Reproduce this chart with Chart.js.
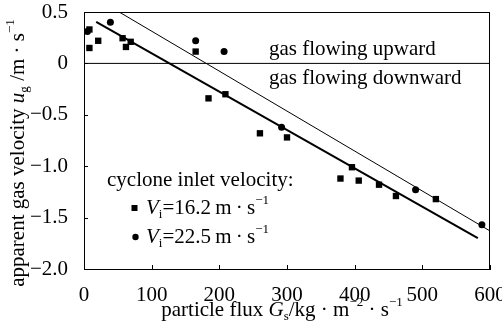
<!DOCTYPE html>
<html>
<head>
<meta charset="utf-8">
<script src="https://cdn.jsdelivr.net/npm/chart.js@4.4.1/dist/chart.umd.min.js"></script>
<style>
  html, body { margin: 0; padding: 0; background: #fff; }
  #wrap { width: 502px; height: 324px; }
</style>
</head>
<body>
<div id="wrap"><canvas id="myChart" width="502" height="324"></canvas></div>
<script>
// Vi = 16.2 m/s (squares)
const squareX = [8, 8, 21, 57, 62, 69, 165, 184, 209, 260, 300, 379, 396, 406, 436, 461, 520];
const squareY = [0.33, 0.15, 0.22, 0.245, 0.16, 0.21, 0.115, -0.34, -0.30, -0.68, -0.72, -1.12, -1.01, -1.14, -1.18, -1.29, -1.32];
// Vi = 22.5 m/s (circles)
const circleX = [5, 39, 165, 207, 292, 490, 588];
const circleY = [0.31, 0.40, 0.22, 0.115, -0.62, -1.23, -1.57];
// fitted lines
const fitLowX = [18, 582];
const fitLowY = [0.405, -1.70];
const fitHighX = [52, 600];
const fitHighY = [0.5, -1.63];
const zeroX = [0, 600];
const zeroY = [0, 0];

const xTicks = [0, 100, 200, 300, 400, 500, 600];
const yTicks = [0.5, 0, -0.5, -1.0, -1.5, -2.0];

const FONT = "'Liberation Serif', 'Times New Roman', serif";

function pts(xs, ys) {
    return xs.map((x, i) => ({ x: x, y: ys[i] }));
}

// text pieces, some italic / sub / sup
function richWidth(ctx, segs, size) {
    let w = 0;
    segs.forEach(s => {
        const sz = (s.sub || s.sup) ? size * 0.62 : size;
        ctx.font = (s.it ? 'italic ' : '') + sz + 'px ' + FONT;
        w += ctx.measureText(s.t).width;
    });
    return w;
}
function drawRich(ctx, segs, x, y, size) {
    ctx.textBaseline = 'middle';
    ctx.textAlign = 'left';
    segs.forEach(s => {
        const sz = (s.sub || s.sup) ? size * 0.62 : size;
        ctx.font = (s.it ? 'italic ' : '') + sz + 'px ' + FONT;
        let dy = 0;
        if (s.sub) dy = size * 0.3;
        if (s.sup) dy = -size * 0.35;
        ctx.fillText(s.t, x, y + dy);
        x += ctx.measureText(s.t).width;
    });
}

const yTitle = [
    { t: 'apparent gas velocity ' }, { t: 'u', it: true }, { t: 'g', sub: true },
    { t: ' /m · s' }, { t: '\u22121', sup: true }
];
const xTitle = [
    { t: 'particle flux ' }, { t: 'G', it: true }, { t: 's', sub: true },
    { t: '/kg · m' }, { t: '\u22122', sup: true }, { t: ' · s' }, { t: '\u22121', sup: true }
];
const legendHead = 'cyclone inlet velocity:';
const legendRows = [
    [{ t: 'V', it: true }, { t: 'i', sub: true }, { t: '=16.2\u2009m\u2009·\u2009s' }, { t: '\u22121', sup: true }],
    [{ t: 'V', it: true }, { t: 'i', sub: true }, { t: '=22.5\u2009m\u2009·\u2009s' }, { t: '\u22121', sup: true }]
];

const extras = {
    id: 'extras',
    afterDraw(chart) {
        const ctx = chart.ctx;
        const a = chart.chartArea;
        const xs = chart.scales.x, ys = chart.scales.y;
        ctx.save();
        ctx.strokeStyle = '#000';
        ctx.fillStyle = '#000';
        ctx.lineWidth = 1;
        // box
        ctx.strokeRect(a.left + 0.5, a.top + 0.5, a.right - a.left - 1, a.bottom - a.top);
        // inward ticks
        ctx.beginPath();
        yTicks.forEach(v => {
            const py = Math.round(ys.getPixelForValue(v)) + 0.5;
            ctx.moveTo(a.left, py); ctx.lineTo(a.left + 4, py);
        });
        xTicks.forEach(v => {
            const px = Math.round(xs.getPixelForValue(v)) + 0.5;
            ctx.moveTo(px, a.bottom); ctx.lineTo(px, a.bottom - 4);
        });
        ctx.stroke();

        // annotations
        ctx.font = '21px ' + FONT;
        ctx.textBaseline = 'middle';
        ctx.fillText('gas flowing upward', a.left + 185, 49);
        ctx.fillText('gas flowing downward', a.left + 185, 78);

        // legend
        ctx.fillText(legendHead, a.left + 23, 180);
        ctx.fillRect(131.5, 205, 6, 6);
        ctx.beginPath();
        ctx.arc(135.5, 237, 3.2, 0, Math.PI * 2);
        ctx.fill();
        drawRich(ctx, legendRows[0], 146, 208, 21);
        drawRich(ctx, legendRows[1], 146, 237, 21);

        // x title
        const xw = richWidth(ctx, xTitle, 21);
        drawRich(ctx, xTitle, (a.left + a.right) / 2 - 5 - xw / 2, 310, 21);

        // y title
        ctx.translate(18, 153);
        ctx.rotate(-Math.PI / 2);
        const yw = richWidth(ctx, yTitle, 21);
        drawRich(ctx, yTitle, -yw / 2, 0, 21);
        ctx.restore();
    }
};

const ctx = document.getElementById('myChart').getContext('2d');
const myChart = new Chart(ctx, {
    type: 'scatter',
    data: {
        datasets: [{
            label: 'zero',
            data: pts(zeroX, zeroY),
            showLine: true,
            borderColor: '#000',
            borderWidth: 1,
            pointRadius: 0
        }, {
            label: 'fit 16.2',
            data: pts(fitLowX, fitLowY),
            showLine: true,
            borderColor: '#000',
            borderWidth: 2,
            pointRadius: 0
        }, {
            label: 'fit 22.5',
            data: pts(fitHighX, fitHighY),
            showLine: true,
            borderColor: '#000',
            borderWidth: 1,
            pointRadius: 0
        }, {
            label: 'Vi=16.2',
            data: pts(squareX, squareY),
            pointStyle: 'rect',
            pointRadius: 4.5,
            backgroundColor: '#000',
            borderColor: '#000',
            borderWidth: 0
        }, {
            label: 'Vi=22.5',
            data: pts(circleX, circleY),
            pointStyle: 'circle',
            pointRadius: 3.5,
            backgroundColor: '#000',
            borderColor: '#000',
            borderWidth: 0
        }]
    },
    options: {
        responsive: false,
        animation: false,
        devicePixelRatio: 1,
        layout: { padding: { top: 12, right: 12, left: 0, bottom: 0 } },
        plugins: { legend: { display: false }, tooltip: { enabled: false } },
        scales: {
            x: {
                type: 'linear',
                min: 0, max: 600,
                afterFit: s => { s.height = 55; s.paddingLeft = 0; s.paddingRight = 0; },
                afterBuildTicks: s => { s.ticks = xTicks.map(v => ({ value: v })); },
                grid: { display: false },
                border: { display: true, color: '#000', width: 1 },
                ticks: { color: '#000', padding: 6, font: { family: FONT, size: 21 }, maxRotation: 0 }
            },
            y: {
                type: 'linear',
                min: -2, max: 0.5,
                afterFit: s => { s.width = 84; s.paddingTop = 0; s.paddingBottom = 0; },
                afterBuildTicks: s => { s.ticks = yTicks.map(v => ({ value: v })); },
                grid: { display: false },
                border: { display: true, color: '#000', width: 1 },
                ticks: {
                    color: '#000', padding: 8, font: { family: FONT, size: 21 },
                    callback: v => v === 0 ? '0' : (v < 0 ? '\u2212' : '') + Math.abs(v).toFixed(1)
                }
            }
        }
    },
    plugins: [extras]
});
</script>
</body>
</html>
